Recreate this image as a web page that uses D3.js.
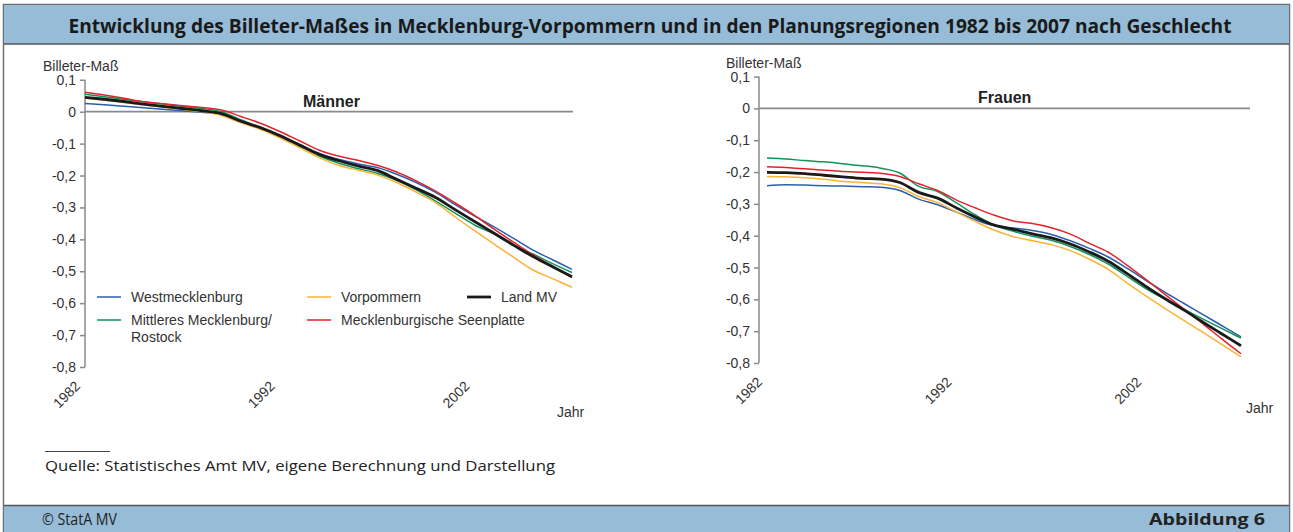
<!DOCTYPE html>
<html lang="de">
<head>
<meta charset="UTF-8">
<title>Billeter-Maß</title>
<style>
  body { margin: 0; background: #fff; }
  svg { display: block; }
  text { font-family: "Liberation Sans", Arial, sans-serif; fill: #333; }
</style>
</head>
<body>
<svg width="1293" height="532"></svg>
<script src="https://d3js.org/d3.v7.min.js"></script>
<script>
// ---- data ----
let years = d3.range(1982, 2008);
let xTickYears = [1982, 1992, 2002];
let yTicks = [0.1, 0, -0.1, -0.2, -0.3, -0.4, -0.5, -0.6, -0.7, -0.8];

let regions = ["Westmecklenburg", "Mittleres Mecklenburg/Rostock", "Vorpommern", "Mecklenburgische Seenplatte", "Land MV"];
let colors = ["#2b5fac", "#11925a", "#fbb335", "#e3222a", "#1a1a1a"];

// Männer
let mWest = [0.026, 0.022, 0.017, 0.012, 0.008, 0.003, -0.002, -0.008, -0.030, -0.050, -0.075, -0.103, -0.130, -0.149, -0.163, -0.175, -0.196, -0.222, -0.253, -0.291, -0.327, -0.361, -0.397, -0.434, -0.464, -0.494];
let mMitt = [0.055, 0.047, 0.039, 0.031, 0.024, 0.017, 0.010, 0.000, -0.025, -0.050, -0.077, -0.108, -0.138, -0.161, -0.178, -0.193, -0.215, -0.245, -0.280, -0.318, -0.355, -0.383, -0.420, -0.446, -0.476, -0.504];
let mVorp = [0.043, 0.036, 0.029, 0.021, 0.014, 0.007, 0.000, -0.012, -0.035, -0.055, -0.082, -0.112, -0.143, -0.168, -0.183, -0.198, -0.222, -0.252, -0.285, -0.330, -0.373, -0.415, -0.456, -0.496, -0.523, -0.550];
let mSeen = [0.061, 0.052, 0.042, 0.031, 0.025, 0.019, 0.013, 0.005, -0.015, -0.036, -0.062, -0.091, -0.120, -0.139, -0.152, -0.168, -0.189, -0.217, -0.249, -0.286, -0.325, -0.368, -0.409, -0.449, -0.484, -0.520];
let mLand = [0.045, 0.039, 0.032, 0.024, 0.017, 0.010, 0.003, -0.006, -0.030, -0.050, -0.075, -0.104, -0.133, -0.153, -0.170, -0.184, -0.212, -0.240, -0.269, -0.307, -0.344, -0.381, -0.418, -0.454, -0.486, -0.517];

// Frauen
let fWest = [-0.243, -0.240, -0.241, -0.243, -0.244, -0.246, -0.248, -0.258, -0.285, -0.303, -0.326, -0.350, -0.369, -0.376, -0.384, -0.396, -0.416, -0.440, -0.467, -0.503, -0.541, -0.578, -0.613, -0.648, -0.683, -0.718];
let fMitt = [-0.156, -0.159, -0.164, -0.168, -0.174, -0.180, -0.188, -0.203, -0.245, -0.261, -0.297, -0.335, -0.367, -0.386, -0.402, -0.414, -0.434, -0.459, -0.489, -0.528, -0.567, -0.600, -0.631, -0.662, -0.692, -0.722];
let fVorp = [-0.214, -0.215, -0.218, -0.223, -0.229, -0.233, -0.237, -0.249, -0.277, -0.296, -0.326, -0.356, -0.383, -0.403, -0.416, -0.428, -0.447, -0.474, -0.506, -0.549, -0.590, -0.629, -0.667, -0.704, -0.742, -0.781];
let fSeen = [-0.183, -0.186, -0.190, -0.194, -0.198, -0.201, -0.204, -0.214, -0.237, -0.258, -0.288, -0.313, -0.336, -0.354, -0.362, -0.375, -0.395, -0.424, -0.452, -0.493, -0.538, -0.585, -0.631, -0.677, -0.725, -0.771];
let fLand = [-0.201, -0.202, -0.205, -0.210, -0.215, -0.220, -0.222, -0.233, -0.264, -0.282, -0.313, -0.342, -0.367, -0.380, -0.394, -0.407, -0.426, -0.451, -0.480, -0.519, -0.560, -0.598, -0.634, -0.672, -0.709, -0.746];

let svg = d3.select("svg");
let W = 1293, H = 532;

// ---- frame ----
svg.append("rect").attr("x", 3.5).attr("y", 4.5).attr("width", W - 7).attr("height", H - 4)
    .attr("fill", "#fff").attr("stroke", "#6f6f6f").attr("stroke-width", 1.5);
svg.append("rect").attr("x", 4).attr("y", 5).attr("width", W - 8).attr("height", 39).attr("fill", "#96bcd7");
svg.append("line").attr("x1", 4).attr("x2", W - 4).attr("y1", 44).attr("y2", 44).attr("stroke", "#555").attr("stroke-width", 1.5);
svg.append("text").attr("x", 650).attr("y", 33).attr("text-anchor", "middle")
    .attr("textLength", 1163).attr("lengthAdjust", "spacingAndGlyphs")
    .style("font-family", "'Open Sans', sans-serif").style("font-weight", 700).style("font-size", "19px").style("fill", "#1a1a1a")
    .text("Entwicklung des Billeter-Maßes in Mecklenburg-Vorpommern und in den Planungsregionen 1982 bis 2007 nach Geschlecht");

svg.append("rect").attr("x", 4).attr("y", 506).attr("width", W - 8).attr("height", 26).attr("fill", "#96bcd7");
svg.append("line").attr("x1", 4).attr("x2", W - 4).attr("y1", 505.5).attr("y2", 505.5).attr("stroke", "#555").attr("stroke-width", 1.5);
svg.append("text").attr("x", 42).attr("y", 525).attr("textLength", 75).attr("lengthAdjust", "spacingAndGlyphs")
    .style("font-family", "'Open Sans', sans-serif").style("font-size", "16px").style("fill", "#222").text("© StatA MV");
svg.append("text").attr("x", 1265).attr("y", 525).attr("text-anchor", "end").attr("textLength", 116).attr("lengthAdjust", "spacingAndGlyphs")
    .style("font-family", "'Open Sans', sans-serif").style("font-weight", 700).style("font-size", "16px").style("fill", "#222").text("Abbildung 6");

svg.append("line").attr("x1", 45).attr("x2", 110).attr("y1", 451.5).attr("y2", 451.5).attr("stroke", "#444").attr("stroke-width", 1);
svg.append("text").attr("x", 45).attr("y", 471).attr("textLength", 510).attr("lengthAdjust", "spacingAndGlyphs")
    .style("font-family", "'Open Sans', sans-serif").style("font-size", "15px").style("fill", "#222")
    .text("Quelle: Statistisches Amt MV, eigene Berechnung und Darstellung");

// ---- panels ----
function panel(opt) {
    let x = d3.scaleLinear().domain([1982, 2007]).range([opt.x0, opt.x1]);
    let y = d3.scaleLinear().domain([0, -0.8]).range([opt.y0, opt.y8]);
    let g = svg.append("g");

    // y axis
    let ax = g.append("g").attr("transform", "translate(" + opt.axisX + ",0)")
        .call(d3.axisLeft(y).tickValues(yTicks).tickSize(5).tickSizeOuter(0).tickPadding(4)
            .tickFormat(d => d === 0 ? "0" : d3.format(".1f")(d).replace("−", "-").replace(".", ",")));
    ax.selectAll("path, line").attr("stroke", "#8a8a8a").attr("stroke-width", 1.5);
    ax.select(".domain").attr("d", "M0," + y(0.1) + "V" + y(-0.8));
    ax.selectAll("text").style("font-size", "14px").style("fill", "#333")
        .style("font-family", "'Liberation Sans', Arial, sans-serif");

    // zero line
    g.append("line").attr("x1", opt.axisX).attr("x2", opt.zeroEnd).attr("y1", y(0)).attr("y2", y(0))
        .attr("stroke", "#8a8a8a").attr("stroke-width", 1.8);

    // x labels
    g.selectAll(".xl").data(xTickYears).enter().append("text")
        .attr("transform", d => "translate(" + (x(d) - 4) + "," + (opt.y8 + 20) + ") rotate(-45)")
        .attr("text-anchor", "end").style("font-size", "14px").text(d => d);
    g.append("text").attr("x", opt.jahrX).attr("y", opt.y8 + 50).style("font-size", "14px").text("Jahr");

    g.append("text").attr("x", opt.labelX).attr("y", y(0.1) - 9).style("font-size", "14px").text("Billeter-Maß");
    g.append("text").attr("x", opt.titleX).attr("y", y(0) - 5).style("font-size", "16px").style("font-weight", 700)
        .style("fill", "#222").text(opt.title);

    let line = d3.line().x((d, i) => x(years[i])).y(d => y(d)).curve(d3.curveMonotoneX);
    opt.series.forEach((s, k) => {
        g.append("path").datum(s).attr("fill", "none").attr("stroke", colors[k])
            .attr("stroke-width", k === 4 ? 2.8 : 1.5).attr("stroke-linejoin", "round").attr("d", line);
    });
}

panel({ x0: 85, x1: 572, axisX: 85, zeroEnd: 573, y0: 111.7, y8: 367, jahrX: 557, labelX: 43, titleX: 303, title: "Männer",
    series: [mWest, mMitt, mVorp, mSeen, mLand] });
panel({ x0: 767, x1: 1241, axisX: 759, zeroEnd: 1250, y0: 108.4, y8: 363, jahrX: 1246, labelX: 726, titleX: 978, title: "Frauen",
    series: [fWest, fMitt, fVorp, fSeen, fLand] });

// ---- legend ----
let legendItems = [
    { k: 0, x: 97, y: 297, lines: ["Westmecklenburg"] },
    { k: 1, x: 97, y: 320, lines: ["Mittleres Mecklenburg/", "Rostock"] },
    { k: 2, x: 307, y: 297, lines: ["Vorpommern"] },
    { k: 3, x: 307, y: 320, lines: ["Mecklenburgische Seenplatte"] },
    { k: 4, x: 467, y: 297, lines: ["Land MV"] }
];
let lg = svg.append("g");
legendItems.forEach(it => {
    lg.append("line").attr("x1", it.x).attr("x2", it.x + 24).attr("y1", it.y).attr("y2", it.y)
        .attr("stroke", colors[it.k]).attr("stroke-width", it.k === 4 ? 2.8 : 1.5);
    let t = lg.append("text").attr("x", it.x + 34).attr("y", it.y + 5).style("font-size", "14px");
    it.lines.forEach((l, j) => t.append("tspan").attr("x", it.x + 34).attr("dy", j ? 17 : 0).text(l));
});
</script>
</body>
</html>
